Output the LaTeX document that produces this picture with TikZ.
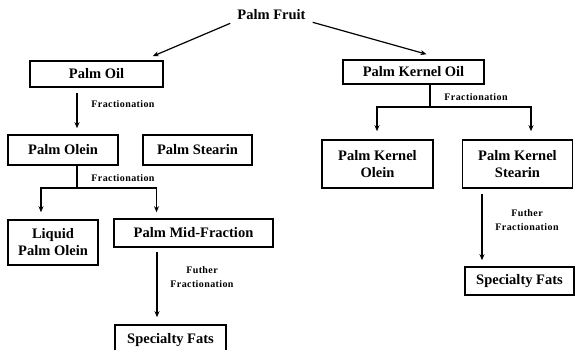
\documentclass[tikz,border=0pt]{standalone}
\usepackage{fontspec}
\setmainfont{Liberation Serif}
\usetikzlibrary{arrows.meta}
\begin{document}
\begin{tikzpicture}[x=1pt,y=-1pt,
  box/.style={draw,line width=1.6pt,inner sep=0pt,align=center,
    font=\fontsize{14.5}{17}\selectfont\bfseries},
  ttl/.style={inner sep=0pt,font=\fontsize{14.5}{17}\selectfont\bfseries},
  lbl/.style={inner sep=0pt,align=center,
    font=\fontsize{10}{14}\selectfont\bfseries\addfontfeatures{LetterSpace=4}},
  arr/.style={line width=1.2pt,-{Stealth[length=6pt,width=5pt]}},
  ln/.style={line width=1.2pt}]
\useasboundingbox (0,0) rectangle (576,350);
\node[ttl] (fruit) at (271.5,15) {Palm Fruit};
\node[box,minimum width=133pt,minimum height=26pt] (oil) at (96.5,74) {Palm Oil};
\node[box,minimum width=141pt,minimum height=24pt] (pko) at (413.5,72) {Palm Kernel Oil};
\node[box,minimum width=110pt,minimum height=30pt] (olein) at (63,150) {Palm Olein};
\node[box,minimum width=109pt,minimum height=30pt] (stearin) at (197.5,150) {Palm Stearin};
\node[box,minimum width=90pt,minimum height=45pt] (liquid) at (53,242.5) {Liquid\\Palm Olein};
\node[box,minimum width=159pt,minimum height=28pt] (mid) at (193.5,233) {Palm Mid-Fraction};
\node[box,minimum width=111pt,minimum height=30pt] (specL) at (170.5,340) {Specialty Fats};
\node[box,minimum width=111pt,minimum height=48pt] (pkolein) at (377.5,164) {Palm Kernel\\Olein};
\node[box,minimum width=110pt,minimum height=48pt] (pkstearin) at (517.5,164) {Palm Kernel\\Stearin};
\node[box,minimum width=109pt,minimum height=28pt] (specR) at (519.5,281) {Specialty Fats};
% labels
\node[lbl] (l1) at (123,104) {Fractionation};
\node[lbl] (l2) at (123,178) {Fractionation};
\node[lbl] (l3) at (202,277) {Futher\\Fractionation};
\node[lbl] (l4) at (476,97) {Fractionation};
\node[lbl] (l5) at (527,220) {Futher\\Fractionation};
% arrows from fruit
\draw[arr] ([xshift=-7pt,yshift=-3pt]fruit.south west) -- ([xshift=-11pt,yshift=4pt]oil.north east);
\draw[arr] ([xshift=7pt,yshift=-2pt]fruit.south east) -- ([xshift=13pt,yshift=5pt]pko.north);
% left branch
\draw[arr] ([xshift=-19.5pt,yshift=-5pt]oil.south) -- ([xshift=14pt,yshift=6pt]olein.north);
\coordinate (j1) at (77,188);
\draw[ln] ([xshift=14pt]olein.south) -- (j1);
\draw[arr] (j1) -| ([xshift=-12pt,yshift=7pt]liquid.north);
\draw[arr] (j1) -| ([xshift=-37pt,yshift=6pt]mid.north);
\draw[arr] ([xshift=-36.5pt,yshift=-4pt]mid.south) -- ([xshift=-13.5pt,yshift=7pt]specL.north);
% right branch
\coordinate (j2) at (430,107);
\draw[ln] ([xshift=16.5pt]pko.south) -- (j2);
\draw[arr] (j2) -| ([xshift=-0.5pt,yshift=8pt]pkolein.north);
\draw[arr] (j2) -| ([xshift=13.5pt,yshift=8pt]pkstearin.north);
\draw[arr] ([xshift=-35.5pt,yshift=-5pt]pkstearin.south) -- ([xshift=-37.5pt,yshift=6pt]specR.north);
\end{tikzpicture}
\end{document}
